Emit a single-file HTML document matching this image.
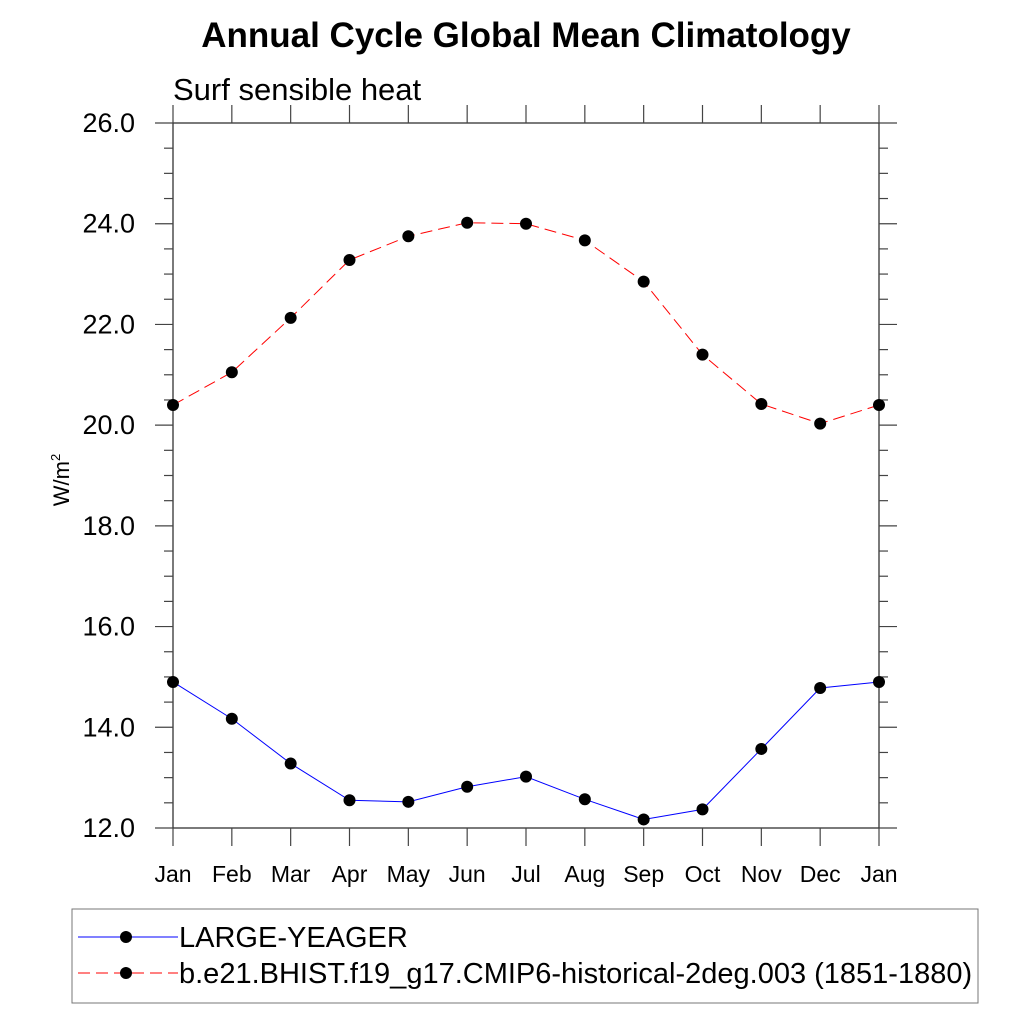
<!DOCTYPE html>
<html><head><meta charset="utf-8"><style>
body{margin:0;background:#fff}
svg{font-family:"Liberation Sans",sans-serif}
</style></head><body>
<svg id="c" width="1024" height="1024" viewBox="0 0 1024 1024">
<text x="526" y="47" text-anchor="middle" font-size="35" font-weight="bold">Annual Cycle Global Mean Climatology</text>
<text x="173" y="100" font-size="31">Surf sensible heat</text>
<text transform="translate(69,480) rotate(-90)" text-anchor="middle" font-size="22">W/m<tspan dy="-9" font-size="13">2</tspan></text>
<g id="axes"></g>
<g id="series"></g>
<rect x="72" y="909" width="906" height="94" fill="none" stroke="#777" stroke-width="1"/>
<g>
<line x1="78" y1="937" x2="178" y2="937" stroke="#00f" stroke-width="1"/>
<circle cx="126" cy="937" r="6" fill="#000"/>
<text x="179" y="947" font-size="29">LARGE-YEAGER</text></g>
<g>
<line x1="78" y1="973" x2="178" y2="973" stroke="#f00" stroke-width="1" stroke-dasharray="12,6"/>
<circle cx="126" cy="973" r="6" fill="#000"/>
<text x="179" y="983" font-size="29">b.e21.BHIST.f19_g17.CMIP6-historical-2deg.003 (1851-1880)</text></g>
</svg>
<script>
const months=["Jan","Feb","Mar","Apr","May","Jun","Jul","Aug","Sep","Oct","Nov","Dec","Jan"];
const yTicks=[12,14,16,18,20,22,24,26];
const largeYeager=[14.9,14.17,13.28,12.55,12.52,12.82,13.02,12.57,12.17,12.37,13.57,14.78,14.9];
const bhist=[20.4,21.05,22.13,23.28,23.75,24.02,24.0,23.67,22.85,21.4,20.42,20.03,20.4];
const X0=173,X1=879,Y0=828,Y1=123,ymin=12,ymax=26;
const xs=i=>X0+(X1-X0)*i/(months.length-1);
const ys=v=>Y0-(v-ymin)/(ymax-ymin)*(Y0-Y1);
const NS="http://www.w3.org/2000/svg";
function mk(t,a,p){const e=document.createElementNS(NS,t);for(const k in a)e.setAttribute(k,a[k]);p.appendChild(e);return e;}
const ax=document.getElementById('axes');
const frame=mk('rect',{x:X0,y:Y1,width:X1-X0,height:Y0-Y1,fill:'none',stroke:'#333','stroke-width':1.3},ax);


for(let v=ymin;v<=ymax+1e-9;v+=0.5){
 const y=ys(v);const major=Math.abs(v-Math.round(v/2)*2)<1e-9;const L=major?18:9;
 mk('line',{x1:X0-L,y1:y,x2:X0,y2:y,stroke:'#444','stroke-width':1.2},ax);
 mk('line',{x1:X1,y1:y,x2:X1+L,y2:y,stroke:'#444','stroke-width':1.2},ax);
}
yTicks.forEach(v=>{
 const t=mk('text',{x:135,y:ys(v)+9,'text-anchor':'end','font-size':27},ax);t.textContent=v.toFixed(1);
 
 
});
months.forEach((m,i)=>{
 const x=xs(i);
 mk('line',{x1:x,y1:Y0,x2:x,y2:Y0+18,stroke:'#444','stroke-width':1.2},ax);
 mk('line',{x1:x,y1:Y1-18,x2:x,y2:Y1,stroke:'#444','stroke-width':1.2},ax);
 const t=mk('text',{x:x,y:882,'text-anchor':'middle','font-size':23},ax);t.textContent=m;
 
 
});
const sg=document.getElementById('series');
function draw(data,color,dash,name){
 const g=mk('g',{},sg);
 
 
 const a={points:data.map((v,i)=>xs(i)+','+ys(v)).join(' '),fill:'none',stroke:color,'stroke-width':1};
 if(dash)a['stroke-dasharray']=dash;
 mk('polyline',a,g);
 data.forEach((v,i)=>{const c=mk('circle',{cx:xs(i),cy:ys(v),r:6,fill:'#000'},g);
  
  });
}
draw(bhist,'#f00','12,6','series-bhist');
draw(largeYeager,'#00f',null,'series-large-yeager');
</script>
</body></html>
